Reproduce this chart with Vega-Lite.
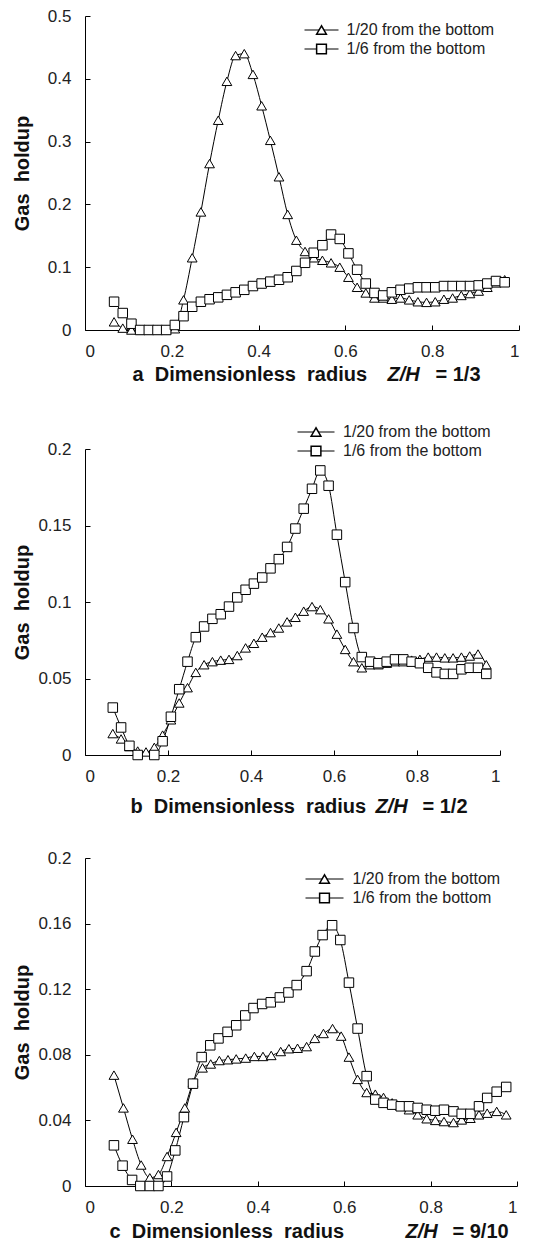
{
"$schema": "https://vega.github.io/schema/vega-lite/v6.json",
"padding": {"left": 12, "top": 7, "right": 4, "bottom": 0},
"spacing": 40,
"datasets": {
"a": [
{"x":0.067,"y":0.013,"s":"1/20 from the bottom"},{"x":0.087,"y":0.003,"s":"1/20 from the bottom"},{"x":0.107,"y":0,"s":"1/20 from the bottom"},{"x":0.127,"y":0,"s":"1/20 from the bottom"},{"x":0.147,"y":0,"s":"1/20 from the bottom"},{"x":0.167,"y":0,"s":"1/20 from the bottom"},{"x":0.187,"y":0,"s":"1/20 from the bottom"},{"x":0.207,"y":0.002,"s":"1/20 from the bottom"},{"x":0.227,"y":0.048,"s":"1/20 from the bottom"},{"x":0.247,"y":0.115,"s":"1/20 from the bottom"},{"x":0.267,"y":0.188,"s":"1/20 from the bottom"},{"x":0.287,"y":0.265,"s":"1/20 from the bottom"},{"x":0.307,"y":0.334,"s":"1/20 from the bottom"},{"x":0.327,"y":0.396,"s":"1/20 from the bottom"},{"x":0.347,"y":0.437,"s":"1/20 from the bottom"},{"x":0.367,"y":0.44,"s":"1/20 from the bottom"},{"x":0.387,"y":0.407,"s":"1/20 from the bottom"},{"x":0.407,"y":0.357,"s":"1/20 from the bottom"},{"x":0.427,"y":0.302,"s":"1/20 from the bottom"},{"x":0.447,"y":0.244,"s":"1/20 from the bottom"},{"x":0.467,"y":0.184,"s":"1/20 from the bottom"},{"x":0.487,"y":0.143,"s":"1/20 from the bottom"},{"x":0.507,"y":0.125,"s":"1/20 from the bottom"},{"x":0.527,"y":0.115,"s":"1/20 from the bottom"},{"x":0.547,"y":0.111,"s":"1/20 from the bottom"},{"x":0.567,"y":0.107,"s":"1/20 from the bottom"},{"x":0.587,"y":0.1,"s":"1/20 from the bottom"},{"x":0.607,"y":0.084,"s":"1/20 from the bottom"},{"x":0.627,"y":0.068,"s":"1/20 from the bottom"},{"x":0.647,"y":0.059,"s":"1/20 from the bottom"},{"x":0.667,"y":0.051,"s":"1/20 from the bottom"},{"x":0.687,"y":0.051,"s":"1/20 from the bottom"},{"x":0.707,"y":0.049,"s":"1/20 from the bottom"},{"x":0.727,"y":0.051,"s":"1/20 from the bottom"},{"x":0.747,"y":0.048,"s":"1/20 from the bottom"},{"x":0.767,"y":0.045,"s":"1/20 from the bottom"},{"x":0.787,"y":0.044,"s":"1/20 from the bottom"},{"x":0.807,"y":0.045,"s":"1/20 from the bottom"},{"x":0.827,"y":0.049,"s":"1/20 from the bottom"},{"x":0.847,"y":0.051,"s":"1/20 from the bottom"},{"x":0.867,"y":0.055,"s":"1/20 from the bottom"},{"x":0.887,"y":0.058,"s":"1/20 from the bottom"},{"x":0.907,"y":0.062,"s":"1/20 from the bottom"},{"x":0.927,"y":0.068,"s":"1/20 from the bottom"},{"x":0.947,"y":0.075,"s":"1/20 from the bottom"},{"x":0.967,"y":0.08,"s":"1/20 from the bottom"},
{"x":0.067,"y":0.045,"s":"1/6 from the bottom"},{"x":0.087,"y":0.027,"s":"1/6 from the bottom"},{"x":0.107,"y":0.01,"s":"1/6 from the bottom"},{"x":0.127,"y":0,"s":"1/6 from the bottom"},{"x":0.147,"y":0,"s":"1/6 from the bottom"},{"x":0.167,"y":0,"s":"1/6 from the bottom"},{"x":0.187,"y":0,"s":"1/6 from the bottom"},{"x":0.207,"y":0.008,"s":"1/6 from the bottom"},{"x":0.227,"y":0.022,"s":"1/6 from the bottom"},{"x":0.247,"y":0.037,"s":"1/6 from the bottom"},{"x":0.267,"y":0.045,"s":"1/6 from the bottom"},{"x":0.287,"y":0.049,"s":"1/6 from the bottom"},{"x":0.307,"y":0.052,"s":"1/6 from the bottom"},{"x":0.327,"y":0.056,"s":"1/6 from the bottom"},{"x":0.347,"y":0.06,"s":"1/6 from the bottom"},{"x":0.367,"y":0.064,"s":"1/6 from the bottom"},{"x":0.387,"y":0.07,"s":"1/6 from the bottom"},{"x":0.407,"y":0.074,"s":"1/6 from the bottom"},{"x":0.427,"y":0.077,"s":"1/6 from the bottom"},{"x":0.447,"y":0.08,"s":"1/6 from the bottom"},{"x":0.467,"y":0.084,"s":"1/6 from the bottom"},{"x":0.487,"y":0.094,"s":"1/6 from the bottom"},{"x":0.507,"y":0.107,"s":"1/6 from the bottom"},{"x":0.527,"y":0.123,"s":"1/6 from the bottom"},{"x":0.547,"y":0.135,"s":"1/6 from the bottom"},{"x":0.567,"y":0.152,"s":"1/6 from the bottom"},{"x":0.587,"y":0.145,"s":"1/6 from the bottom"},{"x":0.607,"y":0.122,"s":"1/6 from the bottom"},{"x":0.627,"y":0.096,"s":"1/6 from the bottom"},{"x":0.647,"y":0.074,"s":"1/6 from the bottom"},{"x":0.667,"y":0.059,"s":"1/6 from the bottom"},{"x":0.687,"y":0.055,"s":"1/6 from the bottom"},{"x":0.707,"y":0.06,"s":"1/6 from the bottom"},{"x":0.727,"y":0.064,"s":"1/6 from the bottom"},{"x":0.747,"y":0.066,"s":"1/6 from the bottom"},{"x":0.767,"y":0.068,"s":"1/6 from the bottom"},{"x":0.787,"y":0.068,"s":"1/6 from the bottom"},{"x":0.807,"y":0.068,"s":"1/6 from the bottom"},{"x":0.827,"y":0.07,"s":"1/6 from the bottom"},{"x":0.847,"y":0.07,"s":"1/6 from the bottom"},{"x":0.867,"y":0.07,"s":"1/6 from the bottom"},{"x":0.887,"y":0.07,"s":"1/6 from the bottom"},{"x":0.907,"y":0.071,"s":"1/6 from the bottom"},{"x":0.927,"y":0.074,"s":"1/6 from the bottom"},{"x":0.947,"y":0.078,"s":"1/6 from the bottom"},{"x":0.967,"y":0.076,"s":"1/6 from the bottom"}
],
"b": [
{"x":0.067,"y":0.014,"s":"1/20 from the bottom"},{"x":0.087,"y":0.0105,"s":"1/20 from the bottom"},{"x":0.107,"y":0.0055,"s":"1/20 from the bottom"},{"x":0.127,"y":0.0026,"s":"1/20 from the bottom"},{"x":0.147,"y":0.002,"s":"1/20 from the bottom"},{"x":0.167,"y":0.005,"s":"1/20 from the bottom"},{"x":0.187,"y":0.013,"s":"1/20 from the bottom"},{"x":0.207,"y":0.023,"s":"1/20 from the bottom"},{"x":0.227,"y":0.034,"s":"1/20 from the bottom"},{"x":0.247,"y":0.044,"s":"1/20 from the bottom"},{"x":0.267,"y":0.054,"s":"1/20 from the bottom"},{"x":0.287,"y":0.059,"s":"1/20 from the bottom"},{"x":0.307,"y":0.061,"s":"1/20 from the bottom"},{"x":0.327,"y":0.062,"s":"1/20 from the bottom"},{"x":0.347,"y":0.0625,"s":"1/20 from the bottom"},{"x":0.367,"y":0.065,"s":"1/20 from the bottom"},{"x":0.387,"y":0.07,"s":"1/20 from the bottom"},{"x":0.407,"y":0.073,"s":"1/20 from the bottom"},{"x":0.427,"y":0.077,"s":"1/20 from the bottom"},{"x":0.447,"y":0.08,"s":"1/20 from the bottom"},{"x":0.467,"y":0.083,"s":"1/20 from the bottom"},{"x":0.487,"y":0.087,"s":"1/20 from the bottom"},{"x":0.507,"y":0.09,"s":"1/20 from the bottom"},{"x":0.527,"y":0.094,"s":"1/20 from the bottom"},{"x":0.547,"y":0.097,"s":"1/20 from the bottom"},{"x":0.567,"y":0.095,"s":"1/20 from the bottom"},{"x":0.587,"y":0.089,"s":"1/20 from the bottom"},{"x":0.607,"y":0.079,"s":"1/20 from the bottom"},{"x":0.627,"y":0.069,"s":"1/20 from the bottom"},{"x":0.647,"y":0.061,"s":"1/20 from the bottom"},{"x":0.667,"y":0.057,"s":"1/20 from the bottom"},{"x":0.687,"y":0.059,"s":"1/20 from the bottom"},{"x":0.707,"y":0.059,"s":"1/20 from the bottom"},{"x":0.727,"y":0.06,"s":"1/20 from the bottom"},{"x":0.747,"y":0.061,"s":"1/20 from the bottom"},{"x":0.767,"y":0.061,"s":"1/20 from the bottom"},{"x":0.787,"y":0.062,"s":"1/20 from the bottom"},{"x":0.807,"y":0.0625,"s":"1/20 from the bottom"},{"x":0.827,"y":0.064,"s":"1/20 from the bottom"},{"x":0.847,"y":0.064,"s":"1/20 from the bottom"},{"x":0.867,"y":0.0635,"s":"1/20 from the bottom"},{"x":0.887,"y":0.0635,"s":"1/20 from the bottom"},{"x":0.907,"y":0.064,"s":"1/20 from the bottom"},{"x":0.927,"y":0.0647,"s":"1/20 from the bottom"},{"x":0.947,"y":0.066,"s":"1/20 from the bottom"},{"x":0.967,"y":0.059,"s":"1/20 from the bottom"},
{"x":0.067,"y":0.031,"s":"1/6 from the bottom"},{"x":0.087,"y":0.018,"s":"1/6 from the bottom"},{"x":0.107,"y":0.006,"s":"1/6 from the bottom"},{"x":0.127,"y":0,"s":"1/6 from the bottom"},{"x":0.167,"y":0,"s":"1/6 from the bottom"},{"x":0.187,"y":0.009,"s":"1/6 from the bottom"},{"x":0.207,"y":0.025,"s":"1/6 from the bottom"},{"x":0.227,"y":0.043,"s":"1/6 from the bottom"},{"x":0.247,"y":0.061,"s":"1/6 from the bottom"},{"x":0.267,"y":0.077,"s":"1/6 from the bottom"},{"x":0.287,"y":0.084,"s":"1/6 from the bottom"},{"x":0.307,"y":0.089,"s":"1/6 from the bottom"},{"x":0.327,"y":0.092,"s":"1/6 from the bottom"},{"x":0.347,"y":0.097,"s":"1/6 from the bottom"},{"x":0.367,"y":0.103,"s":"1/6 from the bottom"},{"x":0.387,"y":0.108,"s":"1/6 from the bottom"},{"x":0.407,"y":0.112,"s":"1/6 from the bottom"},{"x":0.427,"y":0.116,"s":"1/6 from the bottom"},{"x":0.447,"y":0.122,"s":"1/6 from the bottom"},{"x":0.467,"y":0.128,"s":"1/6 from the bottom"},{"x":0.487,"y":0.136,"s":"1/6 from the bottom"},{"x":0.507,"y":0.148,"s":"1/6 from the bottom"},{"x":0.527,"y":0.161,"s":"1/6 from the bottom"},{"x":0.547,"y":0.174,"s":"1/6 from the bottom"},{"x":0.567,"y":0.186,"s":"1/6 from the bottom"},{"x":0.587,"y":0.176,"s":"1/6 from the bottom"},{"x":0.607,"y":0.144,"s":"1/6 from the bottom"},{"x":0.627,"y":0.113,"s":"1/6 from the bottom"},{"x":0.647,"y":0.083,"s":"1/6 from the bottom"},{"x":0.667,"y":0.064,"s":"1/6 from the bottom"},{"x":0.687,"y":0.061,"s":"1/6 from the bottom"},{"x":0.707,"y":0.06,"s":"1/6 from the bottom"},{"x":0.727,"y":0.061,"s":"1/6 from the bottom"},{"x":0.747,"y":0.0625,"s":"1/6 from the bottom"},{"x":0.767,"y":0.0625,"s":"1/6 from the bottom"},{"x":0.787,"y":0.061,"s":"1/6 from the bottom"},{"x":0.807,"y":0.06,"s":"1/6 from the bottom"},{"x":0.827,"y":0.057,"s":"1/6 from the bottom"},{"x":0.847,"y":0.054,"s":"1/6 from the bottom"},{"x":0.867,"y":0.053,"s":"1/6 from the bottom"},{"x":0.887,"y":0.053,"s":"1/6 from the bottom"},{"x":0.907,"y":0.056,"s":"1/6 from the bottom"},{"x":0.927,"y":0.057,"s":"1/6 from the bottom"},{"x":0.947,"y":0.057,"s":"1/6 from the bottom"},{"x":0.967,"y":0.053,"s":"1/6 from the bottom"}
],
"c": [
{"x":0.067,"y":0.0676,"s":"1/20 from the bottom"},{"x":0.089,"y":0.0476,"s":"1/20 from the bottom"},{"x":0.11,"y":0.0285,"s":"1/20 from the bottom"},{"x":0.13,"y":0.0128,"s":"1/20 from the bottom"},{"x":0.15,"y":0.005,"s":"1/20 from the bottom"},{"x":0.17,"y":0.007,"s":"1/20 from the bottom"},{"x":0.19,"y":0.018,"s":"1/20 from the bottom"},{"x":0.211,"y":0.0327,"s":"1/20 from the bottom"},{"x":0.231,"y":0.0476,"s":"1/20 from the bottom"},{"x":0.25,"y":0.063,"s":"1/20 from the bottom"},{"x":0.272,"y":0.072,"s":"1/20 from the bottom"},{"x":0.291,"y":0.0744,"s":"1/20 from the bottom"},{"x":0.311,"y":0.0765,"s":"1/20 from the bottom"},{"x":0.331,"y":0.077,"s":"1/20 from the bottom"},{"x":0.35,"y":0.0775,"s":"1/20 from the bottom"},{"x":0.372,"y":0.078,"s":"1/20 from the bottom"},{"x":0.392,"y":0.079,"s":"1/20 from the bottom"},{"x":0.412,"y":0.079,"s":"1/20 from the bottom"},{"x":0.431,"y":0.0796,"s":"1/20 from the bottom"},{"x":0.453,"y":0.082,"s":"1/20 from the bottom"},{"x":0.472,"y":0.0837,"s":"1/20 from the bottom"},{"x":0.492,"y":0.084,"s":"1/20 from the bottom"},{"x":0.513,"y":0.085,"s":"1/20 from the bottom"},{"x":0.532,"y":0.09,"s":"1/20 from the bottom"},{"x":0.552,"y":0.093,"s":"1/20 from the bottom"},{"x":0.573,"y":0.096,"s":"1/20 from the bottom"},{"x":0.593,"y":0.0914,"s":"1/20 from the bottom"},{"x":0.611,"y":0.0786,"s":"1/20 from the bottom"},{"x":0.631,"y":0.065,"s":"1/20 from the bottom"},{"x":0.652,"y":0.057,"s":"1/20 from the bottom"},{"x":0.672,"y":0.056,"s":"1/20 from the bottom"},{"x":0.691,"y":0.054,"s":"1/20 from the bottom"},{"x":0.711,"y":0.0507,"s":"1/20 from the bottom"},{"x":0.731,"y":0.0486,"s":"1/20 from the bottom"},{"x":0.75,"y":0.0465,"s":"1/20 from the bottom"},{"x":0.77,"y":0.0434,"s":"1/20 from the bottom"},{"x":0.791,"y":0.041,"s":"1/20 from the bottom"},{"x":0.811,"y":0.04,"s":"1/20 from the bottom"},{"x":0.831,"y":0.0393,"s":"1/20 from the bottom"},{"x":0.853,"y":0.0387,"s":"1/20 from the bottom"},{"x":0.872,"y":0.0403,"s":"1/20 from the bottom"},{"x":0.892,"y":0.0413,"s":"1/20 from the bottom"},{"x":0.912,"y":0.0434,"s":"1/20 from the bottom"},{"x":0.931,"y":0.0444,"s":"1/20 from the bottom"},{"x":0.953,"y":0.0455,"s":"1/20 from the bottom"},{"x":0.975,"y":0.0434,"s":"1/20 from the bottom"},
{"x":0.067,"y":0.0248,"s":"1/6 from the bottom"},{"x":0.087,"y":0.0124,"s":"1/6 from the bottom"},{"x":0.109,"y":0.0037,"s":"1/6 from the bottom"},{"x":0.128,"y":0,"s":"1/6 from the bottom"},{"x":0.15,"y":0,"s":"1/6 from the bottom"},{"x":0.17,"y":0,"s":"1/6 from the bottom"},{"x":0.19,"y":0.0058,"s":"1/6 from the bottom"},{"x":0.209,"y":0.0217,"s":"1/6 from the bottom"},{"x":0.229,"y":0.042,"s":"1/6 from the bottom"},{"x":0.25,"y":0.0624,"s":"1/6 from the bottom"},{"x":0.27,"y":0.0786,"s":"1/6 from the bottom"},{"x":0.29,"y":0.0858,"s":"1/6 from the bottom"},{"x":0.309,"y":0.09,"s":"1/6 from the bottom"},{"x":0.33,"y":0.094,"s":"1/6 from the bottom"},{"x":0.35,"y":0.098,"s":"1/6 from the bottom"},{"x":0.371,"y":0.104,"s":"1/6 from the bottom"},{"x":0.39,"y":0.1085,"s":"1/6 from the bottom"},{"x":0.41,"y":0.111,"s":"1/6 from the bottom"},{"x":0.43,"y":0.112,"s":"1/6 from the bottom"},{"x":0.451,"y":0.115,"s":"1/6 from the bottom"},{"x":0.471,"y":0.118,"s":"1/6 from the bottom"},{"x":0.49,"y":0.1225,"s":"1/6 from the bottom"},{"x":0.513,"y":0.131,"s":"1/6 from the bottom"},{"x":0.532,"y":0.143,"s":"1/6 from the bottom"},{"x":0.55,"y":0.153,"s":"1/6 from the bottom"},{"x":0.572,"y":0.159,"s":"1/6 from the bottom"},{"x":0.591,"y":0.15,"s":"1/6 from the bottom"},{"x":0.611,"y":0.124,"s":"1/6 from the bottom"},{"x":0.631,"y":0.096,"s":"1/6 from the bottom"},{"x":0.652,"y":0.067,"s":"1/6 from the bottom"},{"x":0.672,"y":0.0527,"s":"1/6 from the bottom"},{"x":0.691,"y":0.0507,"s":"1/6 from the bottom"},{"x":0.711,"y":0.0496,"s":"1/6 from the bottom"},{"x":0.731,"y":0.0486,"s":"1/6 from the bottom"},{"x":0.75,"y":0.0486,"s":"1/6 from the bottom"},{"x":0.77,"y":0.0476,"s":"1/6 from the bottom"},{"x":0.791,"y":0.0465,"s":"1/6 from the bottom"},{"x":0.811,"y":0.0459,"s":"1/6 from the bottom"},{"x":0.831,"y":0.0465,"s":"1/6 from the bottom"},{"x":0.853,"y":0.0455,"s":"1/6 from the bottom"},{"x":0.872,"y":0.044,"s":"1/6 from the bottom"},{"x":0.892,"y":0.044,"s":"1/6 from the bottom"},{"x":0.912,"y":0.0486,"s":"1/6 from the bottom"},{"x":0.931,"y":0.0537,"s":"1/6 from the bottom"},{"x":0.953,"y":0.0575,"s":"1/6 from the bottom"},{"x":0.975,"y":0.0604,"s":"1/6 from the bottom"}
]
},
"resolve": {"scale": {"shape": "independent", "color": "independent"}, "legend": {"shape": "independent", "color": "independent"}},
"vconcat": [
{
"width": 434, "height": 314,
"data": {"name": "a"},
"encoding": {"y": {"field": "y", "type": "quantitative", "scale": {"domain": [0, 0.5], "nice": false}, "axis": {"values": [0, 0.1, 0.2, 0.3, 0.4, 0.5], "format": "~g", "title": "Gas \u00a0holdup", "titleX": -63, "titleBaseline": "middle"}}},
"layer": [
{"mark": {"type": "line"},
 "encoding": {"color": {"field": "s", "type": "nominal", "scale": {"domain": ["1/20 from the bottom", "1/6 from the bottom"], "range": ["black", "black"]}, "legend": {"title": null, "orient": "none", "legendX": 220, "legendY": 6, "symbolType": "M-3.4,0L3.4,0", "symbolSize": 100, "symbolStrokeWidth": 1, "symbolOffset": 8.5, "labelOffset": 17}},
  "x": {"field": "x", "type": "quantitative", "scale": {"domain": [0, 1], "nice": false}, "axis": {"orient": "bottom", "values": [0, 0.2, 0.4, 0.6, 0.8, 1], "format": "~g", "title": "a \u00a0Dimensionless \u00a0radius", "titleX": 47, "titleY": 50, "titleAlign": "left", "titleBaseline": "alphabetic"}}}},
{"transform": [{"filter": "datum.s === '1/20 from the bottom'"}],
 "mark": {"type": "point", "size": 95, "filled": true, "fill": "white", "stroke": "black", "strokeWidth": 1, "opacity": 1},
 "encoding": {"shape": {"field": "s", "type": "nominal", "scale": {"domain": ["1/20 from the bottom", "1/6 from the bottom", "-"], "range": ["triangle-up", "square", "circle"]}, "legend": {"title": null, "orient": "none", "legendX": 220, "legendY": 6, "values": ["1/20 from the bottom", "1/6 from the bottom"], "labelExpr": "' '", "symbolOffset": 8.5, "symbolSize": 95}},
  "x": {"field": "x", "type": "quantitative", "axis": {"orient": "bottom", "domain": false, "ticks": false, "labels": false, "title": "Z/H", "titleFontStyle": "italic", "titleX": 302, "titleY": 50, "titleAlign": "left", "titleBaseline": "alphabetic"}}}},
{"transform": [{"filter": "datum.s === '1/6 from the bottom'"}],
 "mark": {"type": "point", "size": 90, "filled": true, "fill": "white", "stroke": "black", "strokeWidth": 1, "opacity": 1},
 "encoding": {"shape": {"field": "s", "type": "nominal", "scale": {"domain": ["1/20 from the bottom", "1/6 from the bottom", "-"], "range": ["triangle-up", "square", "circle"]}, "legend": {"title": null, "orient": "none", "legendX": 220, "legendY": 6, "values": ["1/20 from the bottom", "1/6 from the bottom"], "labelExpr": "' '", "symbolOffset": 8.5, "symbolSize": 95}},
  "x": {"field": "x", "type": "quantitative", "axis": {"orient": "bottom", "domain": false, "ticks": false, "labels": false, "title": "= 1/3", "titleX": 350, "titleY": 50, "titleAlign": "left", "titleBaseline": "alphabetic"}}}}
],
"resolve": {"axis": {"x": "independent"}}
},
{
"spacing": 33,
"resolve": {"scale": {"shape": "independent", "color": "independent"}, "legend": {"shape": "independent", "color": "independent"}},
"vconcat": [
{
"width": 415, "height": 306,
"data": {"name": "b"},
"encoding": {"y": {"field": "y", "type": "quantitative", "scale": {"domain": [0, 0.2], "nice": false}, "axis": {"values": [0, 0.05, 0.1, 0.15, 0.2], "format": "~g", "title": "Gas \u00a0holdup", "titleX": -63, "titleBaseline": "middle"}}},
"layer": [
{"mark": {"type": "line"},
 "encoding": {"color": {"field": "s", "type": "nominal", "scale": {"domain": ["1/20 from the bottom", "1/6 from the bottom"], "range": ["black", "black"]}, "legend": {"title": null, "orient": "none", "legendX": 213, "legendY": -25, "symbolType": "M-3.7,0L3.7,0", "symbolSize": 100, "symbolStrokeWidth": 1, "symbolOffset": 10, "labelOffset": 19}},
  "x": {"field": "x", "type": "quantitative", "scale": {"domain": [0, 1], "nice": false}, "axis": {"orient": "bottom", "values": [0, 0.2, 0.4, 0.6, 0.8, 1], "format": "~g", "title": "b \u00a0Dimensionless \u00a0radius", "titleX": 45, "titleY": 57, "titleAlign": "left", "titleBaseline": "alphabetic"}}}},
{"transform": [{"filter": "datum.s === '1/20 from the bottom'"}],
 "mark": {"type": "point", "size": 95, "filled": true, "fill": "white", "stroke": "black", "strokeWidth": 1, "opacity": 1},
 "encoding": {"shape": {"field": "s", "type": "nominal", "scale": {"domain": ["1/20 from the bottom", "1/6 from the bottom", "-"], "range": ["triangle-up", "square", "circle"]}, "legend": {"title": null, "orient": "none", "legendX": 213, "legendY": -25, "values": ["1/20 from the bottom", "1/6 from the bottom"], "labelExpr": "' '", "symbolOffset": 10, "symbolSize": 95}},
  "x": {"field": "x", "type": "quantitative", "axis": {"orient": "bottom", "domain": false, "ticks": false, "labels": false, "title": "Z/H", "titleFontStyle": "italic", "titleX": 290, "titleY": 57, "titleAlign": "left", "titleBaseline": "alphabetic"}}}},
{"transform": [{"filter": "datum.s === '1/6 from the bottom'"}],
 "mark": {"type": "point", "size": 90, "filled": true, "fill": "white", "stroke": "black", "strokeWidth": 1, "opacity": 1},
 "encoding": {"shape": {"field": "s", "type": "nominal", "scale": {"domain": ["1/20 from the bottom", "1/6 from the bottom", "-"], "range": ["triangle-up", "square", "circle"]}, "legend": {"title": null, "orient": "none", "legendX": 213, "legendY": -25, "values": ["1/20 from the bottom", "1/6 from the bottom"], "labelExpr": "' '", "symbolOffset": 10, "symbolSize": 95}},
  "x": {"field": "x", "type": "quantitative", "axis": {"orient": "bottom", "domain": false, "ticks": false, "labels": false, "title": "= 1/2", "titleX": 337, "titleY": 57, "titleAlign": "left", "titleBaseline": "alphabetic"}}}}
],
"resolve": {"axis": {"x": "independent"}}
},
{
"width": 432, "height": 328,
"data": {"name": "c"},
"encoding": {"y": {"field": "y", "type": "quantitative", "scale": {"domain": [0, 0.2], "nice": false}, "axis": {"values": [0, 0.04, 0.08, 0.12, 0.16, 0.2], "format": "~g", "title": "Gas \u00a0holdup", "titleX": -63, "titleBaseline": "middle"}}},
"layer": [
{"mark": {"type": "line"},
 "encoding": {"color": {"field": "s", "type": "nominal", "scale": {"domain": ["1/20 from the bottom", "1/6 from the bottom"], "range": ["black", "black"]}, "legend": {"title": null, "orient": "none", "legendX": 221, "legendY": 13, "symbolType": "M-3.8,0L3.8,0", "symbolSize": 100, "symbolStrokeWidth": 1, "symbolOffset": 10.5, "labelOffset": 20}},
  "x": {"field": "x", "type": "quantitative", "scale": {"domain": [0, 1], "nice": false}, "axis": {"orient": "bottom", "values": [0, 0.2, 0.4, 0.6, 0.8, 1], "format": "~g", "title": "c \u00a0Dimensionless \u00a0radius", "titleX": 24, "titleY": 51, "titleAlign": "left", "titleBaseline": "alphabetic"}}}},
{"transform": [{"filter": "datum.s === '1/20 from the bottom'"}],
 "mark": {"type": "point", "size": 95, "filled": true, "fill": "white", "stroke": "black", "strokeWidth": 1, "opacity": 1},
 "encoding": {"shape": {"field": "s", "type": "nominal", "scale": {"domain": ["1/20 from the bottom", "1/6 from the bottom", "-"], "range": ["triangle-up", "square", "circle"]}, "legend": {"title": null, "orient": "none", "legendX": 221, "legendY": 13, "values": ["1/20 from the bottom", "1/6 from the bottom"], "labelExpr": "' '", "symbolOffset": 10.5, "symbolSize": 95}},
  "x": {"field": "x", "type": "quantitative", "axis": {"orient": "bottom", "domain": false, "ticks": false, "labels": false, "title": "Z/H", "titleFontStyle": "italic", "titleX": 320, "titleY": 51, "titleAlign": "left", "titleBaseline": "alphabetic"}}}},
{"transform": [{"filter": "datum.s === '1/6 from the bottom'"}],
 "mark": {"type": "point", "size": 90, "filled": true, "fill": "white", "stroke": "black", "strokeWidth": 1, "opacity": 1},
 "encoding": {"shape": {"field": "s", "type": "nominal", "scale": {"domain": ["1/20 from the bottom", "1/6 from the bottom", "-"], "range": ["triangle-up", "square", "circle"]}, "legend": {"title": null, "orient": "none", "legendX": 221, "legendY": 13, "values": ["1/20 from the bottom", "1/6 from the bottom"], "labelExpr": "' '", "symbolOffset": 10.5, "symbolSize": 95}},
  "x": {"field": "x", "type": "quantitative", "axis": {"orient": "bottom", "domain": false, "ticks": false, "labels": false, "title": "= 9/10", "titleX": 367, "titleY": 51, "titleAlign": "left", "titleBaseline": "alphabetic"}}}}
],
"resolve": {"axis": {"x": "independent"}}
}
]
}
],
"config": {
"view": {"stroke": null},
"font": "Liberation Sans",
"line": {"strokeWidth": 1, "interpolate": "monotone"},
"axis": {"grid": false, "domainColor": "black", "domainWidth": 1, "tickColor": "black", "tickSize": -5, "labelFont": "Liberation Sans", "labelFontSize": 17, "labelColor": "#222", "titleFont": "Liberation Sans", "titleFontSize": 20, "titleFontWeight": "bold", "titleColor": "#111"},
"axisX": {"labelPadding": 18},
"axisY": {"labelPadding": 19},
"legend": {"labelFont": "Liberation Sans", "labelFontSize": 16, "labelColor": "#222", "labelLimit": 0, "rowPadding": 3}
}
}
